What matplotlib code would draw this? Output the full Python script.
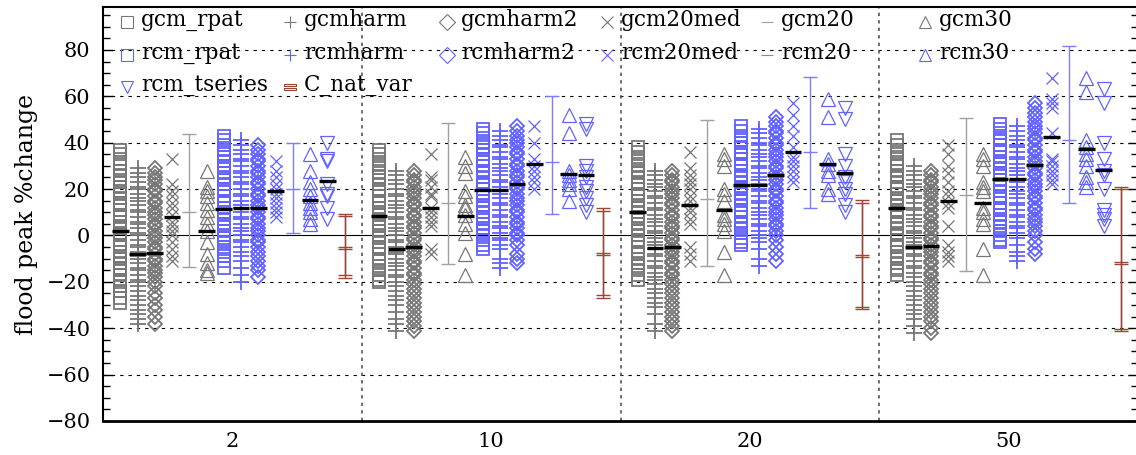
import numpy as np
import matplotlib.pyplot as plt
from matplotlib.ticker import MultipleLocator

# return periods (one group of columns each)
periods = ['2', '10', '20', '50']

# dense ensembles, one list per return period
gcm_rpat = [
    [37, 35, 33, 31, 28, 26, 24, 23, 21, 19, 18, 16, 14, 13, 11, 9, 8, 6, 4, 3, 1, 0, -2, -4, -5, -7, -9, -10, -12, -14, -15, -17, -19, -20, -22, -24, -27, -29],
    [37, 35, 33, 31, 29, 27, 25, 24, 22, 20, 19, 17, 15, 14, 12, 10, 9, 7, 5, 4, 2, 0, -1, -3, -5, -6, -8, -10, -11, -13, -15, -17, -19, -20],
    [38, 36, 34, 32, 30, 28, 27, 25, 23, 22, 20, 18, 17, 15, 13, 12, 10, 8, 7, 5, 3, 2, 0, -2, -3, -5, -7, -8, -10, -12, -13, -15, -17, -19],
    [41, 39, 37, 35, 33, 31, 30, 28, 26, 25, 23, 21, 20, 18, 16, 15, 13, 11, 10, 8, 6, 5, 3, 1, 0, -2, -4, -5, -7, -9, -10, -12, -14, -15, -17],
]
gcmharm = [
    [29, 27, 25, 23, 21, 20, 18, 16, 15, 13, 11, 10, 8, 6, 5, 3, 1, 0, -2, -4, -5, -7, -9, -10, -12, -14, -15, -17, -19, -20, -22, -24, -26, -28, -30, -32, -34, -36, -38],
    [28, 26, 24, 22, 20, 18, 17, 15, 13, 12, 10, 8, 7, 5, 3, 2, 0, -2, -3, -5, -7, -8, -10, -12, -13, -15, -17, -18, -20, -22, -24, -26, -28, -30, -33, -36, -38, -41],
    [28, 26, 24, 22, 21, 19, 17, 16, 14, 12, 11, 9, 7, 6, 4, 2, 1, -1, -3, -4, -6, -8, -9, -11, -13, -14, -16, -18, -19, -21, -23, -25, -27, -29, -31, -34, -38, -41],
    [30, 28, 26, 24, 22, 21, 19, 17, 16, 14, 12, 11, 9, 7, 6, 4, 2, 1, -1, -3, -4, -6, -8, -9, -11, -13, -14, -16, -18, -20, -22, -24, -26, -28, -30, -32, -34, -36, -39, -42],
]
gcmharm2 = [
    [29, 27, 25, 24, 22, 20, 19, 17, 15, 14, 12, 10, 9, 7, 5, 4, 2, 0, -1, -3, -5, -6, -8, -10, -11, -13, -15, -16, -18, -20, -22, -25, -27, -30, -32, -35, -38],
    [28, 26, 24, 23, 21, 19, 18, 16, 14, 13, 11, 9, 8, 6, 4, 3, 1, -1, -2, -4, -6, -7, -9, -11, -12, -14, -16, -17, -19, -21, -23, -25, -27, -29, -31, -33, -35, -37, -39, -41],
    [28, 26, 24, 23, 21, 19, 18, 16, 14, 13, 11, 9, 8, 6, 4, 3, 1, -1, -2, -4, -6, -7, -9, -11, -12, -14, -16, -17, -19, -21, -23, -25, -27, -29, -31, -33, -35, -37, -39, -41],
    [28, 26, 24, 23, 21, 19, 18, 16, 14, 13, 11, 9, 8, 6, 4, 3, 1, -1, -2, -4, -6, -7, -9, -11, -12, -14, -16, -17, -19, -21, -23, -25, -27, -29, -31, -33, -35, -37, -40, -42],
]
rcm_rpat = [
    [43, 41, 39, 37, 35, 34, 32, 30, 29, 27, 25, 24, 22, 20, 19, 17, 15, 14, 12, 10, 9, 7, 5, 4, 2, 0, -1, -3, -5, -7, -9, -11, -14],
    [46, 44, 42, 40, 38, 37, 35, 33, 32, 30, 28, 27, 25, 23, 22, 20, 18, 17, 15, 13, 12, 10, 8, 7, 5, 3, 2, 0, -2, -4, -6],
    [47, 45, 43, 41, 40, 38, 36, 35, 33, 31, 30, 28, 26, 25, 23, 21, 20, 18, 16, 15, 13, 11, 10, 8, 6, 5, 3, 1, -1, -3, -4],
    [48, 46, 44, 42, 41, 39, 37, 36, 34, 32, 31, 29, 27, 26, 24, 22, 21, 19, 17, 16, 14, 12, 11, 9, 7, 6, 4, 2, 0, -2, -3],
]
rcmharm = [
    [41, 39, 37, 35, 33, 32, 30, 28, 27, 25, 23, 22, 20, 18, 17, 15, 13, 12, 10, 8, 7, 5, 3, 2, 0, -2, -3, -5, -7, -9, -11, -14, -17, -20],
    [45, 43, 41, 39, 38, 36, 34, 33, 31, 29, 28, 26, 24, 23, 21, 19, 18, 16, 14, 13, 11, 9, 8, 6, 4, 3, 1, -1, -2, -4, -6, -10, -12, -14],
    [46, 44, 42, 40, 39, 37, 35, 34, 32, 30, 29, 27, 25, 24, 22, 20, 19, 17, 15, 14, 12, 10, 9, 7, 5, 4, 2, 0, -1, -3, -6, -10, -13],
    [47, 45, 43, 41, 39, 38, 36, 34, 33, 31, 29, 28, 26, 24, 23, 21, 19, 18, 16, 14, 13, 11, 9, 8, 6, 4, 3, 1, -1, -4, -7, -9, -11],
]
rcmharm2 = [
    [39, 37, 35, 33, 32, 30, 28, 27, 25, 23, 22, 20, 18, 17, 15, 13, 12, 10, 8, 7, 5, 3, 2, 0, -2, -3, -5, -7, -9, -11, -13, -15, -18],
    [47, 45, 43, 41, 40, 38, 36, 35, 33, 31, 30, 28, 26, 25, 23, 21, 20, 18, 16, 15, 13, 11, 10, 8, 6, 5, 3, 1, 0, -2, -4, -8, -10, -12],
    [51, 49, 47, 45, 44, 42, 40, 39, 37, 35, 34, 32, 30, 29, 27, 25, 24, 22, 20, 19, 17, 15, 14, 12, 10, 9, 7, 5, 4, 2, 0, -2, -5, -8, -11],
    [57, 55, 53, 51, 49, 47, 46, 44, 42, 41, 39, 37, 36, 34, 32, 31, 29, 27, 26, 24, 22, 21, 19, 17, 16, 14, 12, 11, 9, 7, 6, 4, 2, 0, -3, -6, -8],
]

# sparse ensembles
gcm20med = [
    [33, 22, 19, 17, 14, 12, 9, 6, 4, 2, 0, -3, -6, -9, -11],
    [35, 25, 24, 21, 18, 17, 12, 10, 8, 6, 4, -6, -8],
    [36, 29, 26, 24, 22, 20, 17, 15, 12, 10, 7, 5, -5, -8, -11],
    [39, 35, 30, 27, 23, 19, 17, 14, 12, 4, -4, -7, -9, -11],
]
gcm30 = [
    [28, 21, 19, 17, 14, 11, 8, 5, 2, -3, -8, -12, -15, -16],
    [34, 30, 27, 19, 17, 13, 12, 9, 5, 1, -8, -17],
    [35, 33, 30, 20, 18, 15, 9, 7, 5, 2, -7, -17],
    [35, 33, 30, 23, 21, 19, 12, 10, 7, 5, -6, -17],
]
rcm20med = [
    [32, 28, 25, 22, 20, 18, 16, 14, 12, 10, 8],
    [47, 40, 33, 30, 28, 25, 23, 20],
    [57, 52, 47, 43, 38, 34, 32, 30, 28, 25, 23],
    [68, 59, 57, 55, 44, 33, 32, 30, 28, 26, 24, 22],
]
rcm30 = [
    [35, 28, 23, 20, 17, 14, 12, 10, 7, 5],
    [52, 44, 28, 26, 24, 22, 20, 15],
    [59, 51, 33, 31, 28, 26, 20, 18],
    [68, 62, 41, 38, 35, 33, 30, 25, 23, 21],
]
rcm_tseries = [
    [40, 33, 32, 22, 18, 17, 12, 7],
    [48, 46, 30, 28, 25, 21, 19, 16, 13, 10],
    [55, 50, 35, 30, 25, 23, 20, 18, 13, 10],
    [63, 57, 40, 33, 28, 26, 20, 11, 9, 7, 4],
]

# medians (black bars)
gcm_rpat_med = [2, 8.4, 10, 12]
gcmharm_med = [-8, -5.8, -5.2, -4.8]
gcmharm2_med = [-7.5, -5.1, -4.8, -4.5]
gcm20med_med = [8, 11.7, 13, 15]
gcm30_med = [2, 8.6, 11, 13.9]
rcm_rpat_med = [11.6, 19.5, 21.6, 24.2]
rcmharm_med = [11.7, 19.8, 21.6, 24.2]
rcmharm2_med = [12, 22.2, 25.9, 30.5]
rcm20med_med = [19, 31, 36, 42.3]
rcm30_med = [15.3, 26.5, 31, 37.3]
rcm_tseries_med = [23.6, 26, 27, 28.2]

# range bars
gcm20_lo = [-13.4, -12.3, -13.1, -15.2]
gcm20_mid = [10.3, 14.2, 15.9, 17.5]
gcm20_hi = [43.6, 48.6, 49.8, 50.5]
rcm20_lo = [1.2, 9.3, 11.7, 13.9]
rcm20_mid = [19.9, 31.7, 35.8, 41.2]
rcm20_hi = [40, 60, 68.3, 81.7]
cnat_lo = [[-17, -18.2], [-25.6, -27], [-30.7, -31.8], [-40.2, -41.2]]
cnat_mid = [[-4.8, -6], [-7.4, -8.5], [-8.4, -9.4], [-11.3, -12.4]]
cnat_hi = [[9.3, 8.4], [11.7, 10.7], [15.3, 13.9], [21, 19.9]]

GREY = '#777777'
GREY2 = '#a0a0a0'
BLUE = '#6262ff'
BLUE2 = '#7c7cff'
BROWN = '#9a4535'

plt.rcParams['font.family'] = 'DejaVu Serif'
plt.rcParams['font.size'] = 15

fig = plt.figure(figsize=(11.36, 4.55), dpi=100)
ax = fig.add_axes([103/1136, 34/455, 1035/1136, 414/455])
ax.set_xlim(0, 4)
ax.set_ylim(-80, 98.5)


def xpos(g, col):
    return g + (col + 1) / 15.0


hw = 0.49 / 15

cols = [
    (gcm_rpat, gcm_rpat_med, 0, 's', GREY, 8, 1.3),
    (gcmharm, gcmharm_med, 1, '+', GREY, 12, 1.3),
    (gcmharm2, gcmharm2_med, 2, 'D', GREY, 7.5, 1.3),
    (gcm20med, gcm20med_med, 3, 'x', GREY, 8, 0.9),
    (gcm30, gcm30_med, 5, '^', GREY, 10, 0.9),
    (rcm_rpat, rcm_rpat_med, 6, 's', BLUE, 8, 1.3),
    (rcmharm, rcmharm_med, 7, '+', BLUE, 12, 1.3),
    (rcmharm2, rcmharm2_med, 8, 'D', BLUE, 7.5, 1.3),
    (rcm20med, rcm20med_med, 9, 'x', BLUE, 8, 0.9),
    (rcm30, rcm30_med, 11, '^', BLUE, 10, 0.9),
    (rcm_tseries, rcm_tseries_med, 12, 'v', BLUE, 10, 0.9),
]
for data, med, col, mk, c, ms, ew in cols:
    for g in range(4):
        x = xpos(g, col)
        ax.plot([x] * len(data[g]), data[g], ls='none', marker=mk, ms=ms,
                mfc='none', mec=c, mew=ew, zorder=3)
        ax.hlines(med[g], x - hw, x + hw, color='k', lw=2.4, zorder=5)

for g in range(4):
    for lo, mid, hi, col, c in [(gcm20_lo, gcm20_mid, gcm20_hi, 4, GREY2),
                                (rcm20_lo, rcm20_mid, rcm20_hi, 10, BLUE2)]:
        ax.errorbar(xpos(g, col), mid[g], yerr=[[mid[g] - lo[g]], [hi[g] - mid[g]]],
                    fmt='_', ms=10, mew=1, color=c, capsize=5, capthick=1,
                    elinewidth=1, zorder=3)
    for k in range(2):
        m = cnat_mid[g][k]
        ax.errorbar(xpos(g, 13), m, yerr=[[m - cnat_lo[g][k]], [cnat_hi[g][k] - m]],
                    fmt='_', ms=10, mew=1, color=BROWN, capsize=5, capthick=1,
                    elinewidth=1, zorder=3)

# grid
for yv in [-60, -40, -20, 20, 40, 60, 80]:
    ax.axhline(yv, color='k', lw=0.8, dashes=(3, 4.5), zorder=1)
ax.axhline(0, color='k', lw=0.8, zorder=1)
for xv in [1, 2, 3]:
    ax.axvline(xv, color='#555555', lw=1.2, dashes=(2, 2.5), zorder=1)

ax.set_xticks([0.5, 1.5, 2.5, 3.5])
ax.set_xticklabels(periods)
ax.tick_params(axis='x', length=0, pad=8)
ax.yaxis.set_major_locator(MultipleLocator(20))
ax.yaxis.set_minor_locator(MultipleLocator(5))
ax.tick_params(axis='y', which='both', direction='in', right=True, pad=9)
ax.tick_params(axis='y', which='major', length=7, width=1)
ax.tick_params(axis='y', which='minor', length=5, width=1)
ax.set_ylabel('flood peak %change', labelpad=6, fontsize=17)
for s in ['left', 'top', 'right']:
    ax.spines[s].set_linewidth(1.5)
ax.spines['bottom'].set_linewidth(2)

# legend drawn by hand on a regular grid
legend_items = [
    ('gcm_rpat', 's', GREY, 0, 0), ('gcmharm', '+', GREY, 1, 0),
    ('gcmharm2', 'D', GREY, 2, 0), ('gcm20med', 'x', GREY, 3, 0),
    ('gcm20', '_', GREY2, 4, 0), ('gcm30', '^', GREY, 5, 0),
    ('rcm_rpat', 's', BLUE, 0, 1), ('rcmharm', '+', BLUE, 1, 1),
    ('rcmharm2', 'D', BLUE, 2, 1), ('rcm20med', 'x', BLUE, 3, 1),
    ('rcm20', '_', BLUE2, 4, 1), ('rcm30', '^', BLUE, 5, 1),
    ('rcm_tseries', 'v', BLUE, 0, 2), ('C_nat_var', '$=$', BROWN, 1, 2),
]
col_px = [127, 290, 447, 607, 767, 925]
row_px = [22, 55, 87]
for label, mk, c, ci, ri in legend_items:
    xf = (col_px[ci] - 103) / 1035
    tf = (col_px[ci] + 14 - 103) / 1035
    yf = (421 - row_px[ri]) / 414
    ax.plot([xf], [yf], transform=ax.transAxes, ls='none', marker=mk, ms=8,
            mfc='none', mec=c, mew=0.8, clip_on=False, zorder=6)
    ax.text(tf, yf + 0.005, label, transform=ax.transAxes, ha='left', va='center',
            fontsize=15.5, zorder=6)

fig.savefig('out.png', dpi=100)
